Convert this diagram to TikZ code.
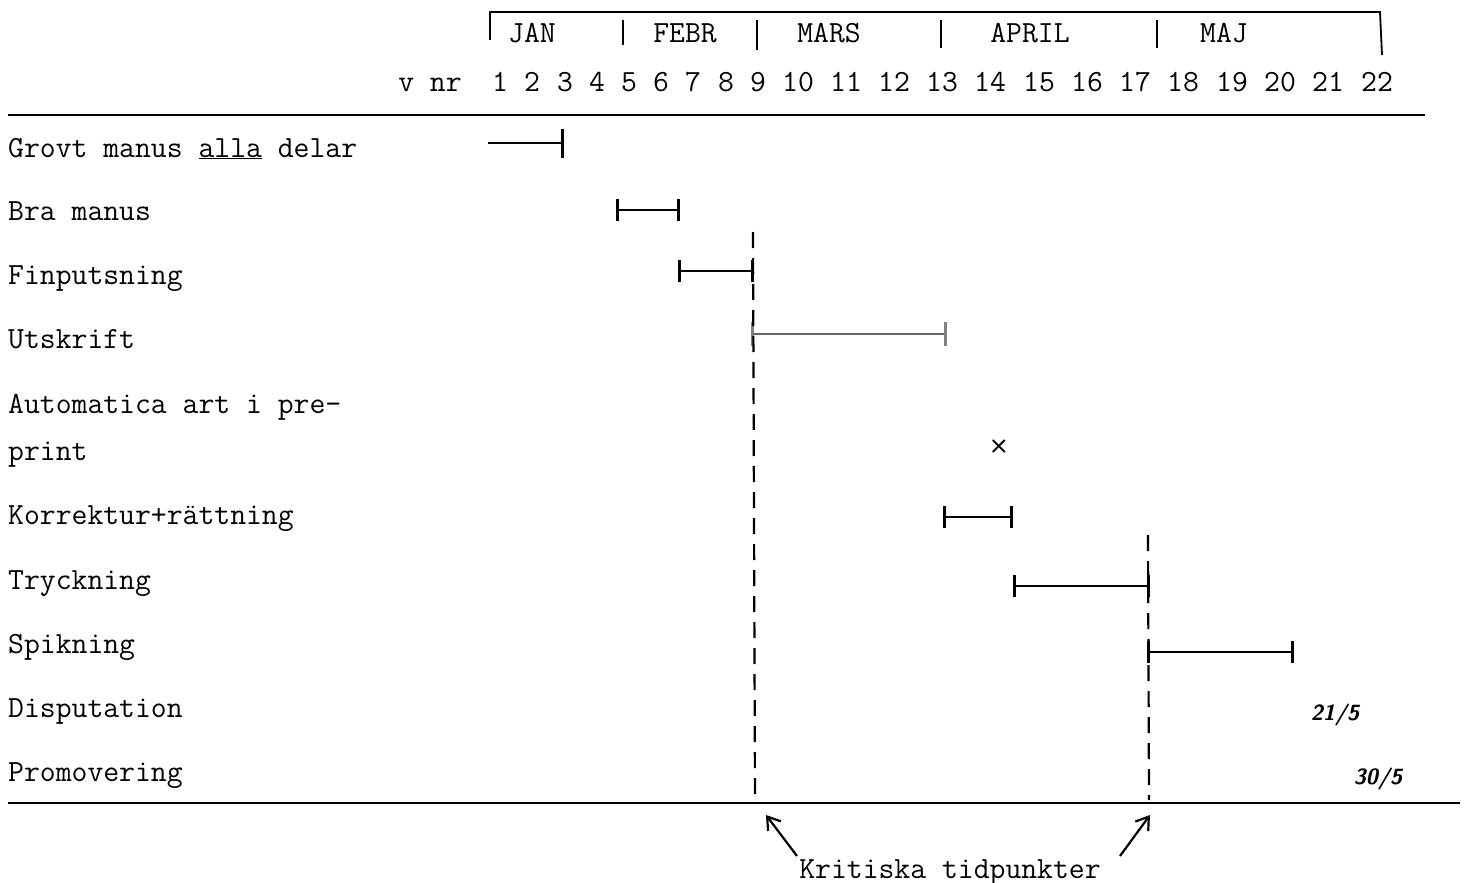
\documentclass[tikz,border=0pt]{standalone}
\usepackage{fontspec}
\usetikzlibrary{arrows.meta}
\begin{document}
\begin{tikzpicture}[x=1pt,y=-1pt,
  txt/.style={font=\ttfamily\fontsize{30.8}{36}\selectfont, inner sep=0pt},
  lbl/.style={txt, anchor=base west},
  num/.style={txt, anchor=base},
  hand/.style={font=\sffamily\bfseries\itshape\fontsize{22}{26}\selectfont, inner sep=0pt},
  rule/.style={line width=2pt},
  bar/.style={line width=2pt},
  tick/.style={line width=3pt},
  crit/.style={line width=2.2pt, dash pattern=on 16pt off 10pt},
  arr/.style={line width=2.2pt, -{Straight Barb[length=12pt,width=16pt,line width=2.2pt]}}]
\useasboundingbox (0,0) rectangle (1468,883);
% month bracket
\draw[line width=1.8pt] (490,40) -- (490,12) -- (1380,12) -- (1382,55);
\foreach \x/\b in {623/45,757/50,941/48,1157/48}
  \draw[line width=2.4pt] (\x,20) -- (\x,\b);
\node[num] (jan) at (532,43) {JAN};
\node[num] (feb) at (685,43) {FEBR};
\node[num] (mar) at (829,43) {MARS};
\node[num] (apr) at (1030,43) {APRIL};
\node[num] (maj) at (1224,43) {MAJ};
% week numbers
\node[num] (vnr) at (430,92) {v nr};
\foreach \n/\x in {1/500,2/532,3/565,4/597,5/629,6/661,7/693,8/726,9/758,10/798,11/846,12/894,13/942,14/990,15/1039,16/1087,17/1135,18/1183,19/1232,20/1280,21/1328,22/1377}
  \node[num] (w\n) at (\x,92) {\n};
% rules
\coordinate (r1a) at (8,115); \coordinate (r1b) at (1425,115);
\coordinate (r2a) at (8,803); \coordinate (r2b) at (1460,803);
\draw[rule] (r1a) -- (r1b);
\draw[rule] (r2a) -- (r2b);
% row labels
\node[lbl] (l1) at (8,157) {Grovt manus \underline{alla} delar};
\node[lbl] (l2) at (8,220) {Bra manus};
\node[lbl] (l3) at (8,284) {Finputsning};
\node[lbl] (l4) at (8,348) {Utskrift};
\node[lbl] (l5) at (8,413) {Automatica art i pre-};
\node[lbl] (l5b) at (8,460) {print};
\node[lbl] (l6) at (8,524) {Korrektur+rättning};
\node[lbl] (l7) at (8,589) {Tryckning};
\node[lbl] (l8) at (8,653) {Spikning};
\node[lbl] (l9) at (8,717) {Disputation};
\node[lbl] (l10) at (8,781) {Promovering};
% bars
\draw[bar] (488,143) -- (562,143); \draw[tick] (562,129) -- (562,158);
\foreach \a/\b/\y in {617/678/210, 679/752/271, 944/1011/517, 1014/1148/586, 1148/1292/652}{
  \draw[bar] (\a,\y) -- (\b,\y);
  \draw[tick] (\a,\y-11) -- (\a,\y+11);
  \draw[tick] (\b,\y-11) -- (\b,\y+11);
}
\draw[bar, gray!80!black] (752,334) -- (945,334);
\draw[tick, gray] (752,322) -- (752,346);
\draw[tick, gray] (945,322) -- (945,346);
\node[font=\sffamily\bfseries\fontsize{24}{26}\selectfont, inner sep=0pt] (x) at (999,446) {×};
% critical lines
\coordinate (c1t) at (753,232); \coordinate (c1b) at (755,800);
\coordinate (c2t) at (1148,535); \coordinate (c2b) at (1149,800);
\draw[crit] (c1t) -- (c1b);
\draw[crit] (c2t) -- (c2b);
% handwritten dates
\node[hand] (d1) at (1335,715) {21/5};
\node[hand] (d2) at (1378,779) {30/5};
% Kritiska
\node[num] (krit) at (950,878) {Kritiska tidpunkter};
\coordinate (a1s) at (797,856); \coordinate (a1e) at (766,815);
\coordinate (a2s) at (1120,856); \coordinate (a2e) at (1150,815);
\draw[arr] (a1s) -- (a1e);
\draw[arr] (a2s) -- (a2e);
\end{tikzpicture}
\end{document}
